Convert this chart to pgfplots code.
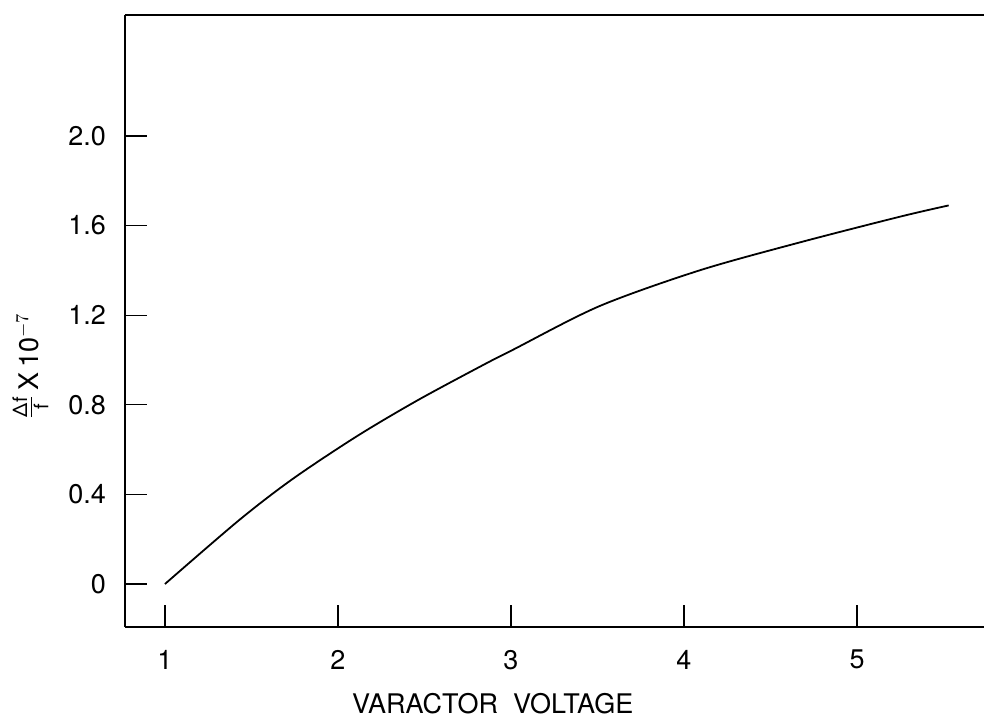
\documentclass[border=0pt]{standalone}
\usepackage{fontspec}
\setmainfont{TeX Gyre Heros}
\usepackage{pgfplots}
\pgfplotsset{compat=1.18}
\begin{document}
\begin{tikzpicture}
\begin{axis}[
    name=ax,
    scale only axis,
    width=429.5pt,
    height=306pt,
    xmin=0.769, xmax=5.734,
    ymin=-0.192, ymax=2.54,
    axis x line*=bottom,
    axis y line*=left,
    axis line style={-, line width=0.7pt},
    tick align=inside,
    major tick length=11pt,
    tick style={line width=0.6pt, black},
    xtick={1,2,3,4,5},
    ytick={0,0.4,0.8,1.2,1.6,2.0},
    yticklabels={0,0.4,0.8,1.2,1.6,2.0},
    /pgf/number format/assume math mode=true,
    tick label style={font=\fontsize{13.5}{16}\selectfont},
    xticklabel style={yshift=-8pt},
    yticklabel style={xshift=-6pt},
    xlabel={VARACTOR\ \ VOLTAGE},
    xlabel style={font=\fontsize{13.5}{16}\selectfont, at={(axis description cs:0.428,-0.126)}, anchor=center},
    ylabel={$\frac{\mbox{\fontsize{10}{11}\selectfont Δf}}{\mbox{\fontsize{10}{11}\selectfont f}}$\,X\,10$^{-7}$},
    ylabel style={font=\fontsize{13.5}{16}\selectfont, at={(axis description cs:-0.11,0.426)}, anchor=center},
]
\addplot[black, line width=0.9pt, smooth, tension=0.5] coordinates {
(1.00,0.000) (1.43,0.286) (1.74,0.470) (2.11,0.660) (2.46,0.820)
(2.84,0.978) (3.01,1.045) (3.51,1.240) (4.09,1.400) (4.67,1.525)
(5.25,1.640) (5.53,1.690)
};
\end{axis}
% top frame line (no right spine in the original)
\draw[line width=0.7pt] (ax.north west) -- (ax.north east);
\pgfresetboundingbox
\path (-62.5pt,-46pt) rectangle (429.5pt,313.5pt);
\end{tikzpicture}
\end{document}
